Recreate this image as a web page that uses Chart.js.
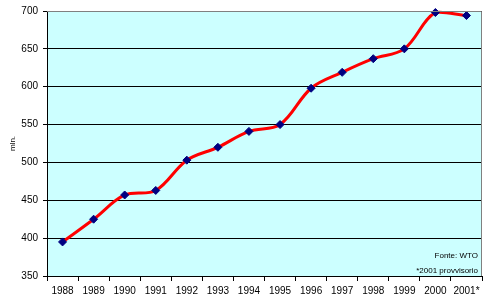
<!DOCTYPE html>
<html>
<head>
<meta charset="utf-8">
<script src="https://cdn.jsdelivr.net/npm/chart.js@4"></script>
<style>
  html, body { margin: 0; padding: 0; background: #fff; }
  #wrap { width: 499px; height: 307px; }
</style>
</head>
<body>
<div id="wrap"><canvas id="myChart" width="499" height="307"></canvas></div>
<script>
// Data
const years = ['1988', '1989', '1990', '1991', '1992', '1993', '1994', '1995', '1996', '1997', '1998', '1999', '2000', '2001*'];
const arrivals = [395, 425, 457, 463, 503, 520, 541, 550, 598, 619, 637, 650, 698, 694];
const yTicks = [350, 400, 450, 500, 550, 600, 650, 700];
const notes = ['Fonte: WTO', '*2001 provvisorio'];

// Plot area background, grey frame and the source notes
const decorations = {
    id: 'decorations',
    beforeDraw(chart) {
        const a = chart.chartArea;
        const ctx = chart.ctx;
        ctx.save();
        ctx.fillStyle = '#CCFFFF';
        ctx.fillRect(a.left, a.top, a.right - a.left, a.bottom - a.top);
        ctx.restore();
    },
    afterDatasetsDraw(chart) {
        const a = chart.chartArea;
        const ctx = chart.ctx;
        ctx.save();
        ctx.strokeStyle = '#808080';
        ctx.lineWidth = 1;
        ctx.beginPath();
        ctx.moveTo(a.left, a.top + 0.5);
        ctx.lineTo(a.right - 0.5, a.top + 0.5);
        ctx.lineTo(a.right - 0.5, a.bottom);
        ctx.stroke();
        ctx.fillStyle = '#000';
        ctx.font = '8px "Liberation Sans", Arial, sans-serif';
        ctx.textAlign = 'right';
        ctx.textBaseline = 'middle';
        ctx.fillText(notes[0], a.right - 4, a.bottom - 20);
        ctx.fillText(notes[1], a.right - 4, a.bottom - 5);
        ctx.restore();
    }
};

const ctx = document.getElementById('myChart').getContext('2d');
const myChart = new Chart(ctx, {
    type: 'line',
    data: {
        labels: years,
        datasets: [{
            data: arrivals,
            borderColor: '#FF0000',
            borderWidth: 3,
            tension: 0.35,
            clip: 6,
            pointStyle: 'rectRot',
            pointRadius: 4,
            pointBackgroundColor: '#000080',
            pointBorderColor: '#000080',
            pointBorderWidth: 1
        }]
    },
    options: {
        responsive: false,
        animation: false,
        layout: { padding: { left: 0, top: 11, right: 17, bottom: 0 } },
        plugins: {
            legend: { display: false },
            tooltip: { enabled: false }
        },
        scales: {
            x: {
                offset: true,
                grid: {
                    offset: true,
                    drawOnChartArea: false,
                    color: '#000',
                    tickLength: 5
                },
                border: { color: '#000', width: 1 },
                ticks: {
                    color: '#000',
                    padding: 4,
                    maxRotation: 0,
                    autoSkip: false,
                    font: { family: '"Liberation Sans", Arial, sans-serif', size: 10 }
                },
                afterFit(scale) { scale.height = 31; }
            },
            y: {
                min: 350,
                max: 700,
                afterBuildTicks(scale) {
                    scale.ticks = yTicks.map(v => ({ value: v }));
                },
                grid: {
                    color: '#000',
                    lineWidth: 1,
                    tickLength: 4
                },
                border: { color: '#000', width: 1 },
                ticks: {
                    color: '#000',
                    padding: 5,
                    font: { family: '"Liberation Sans", Arial, sans-serif', size: 10 }
                },
                title: {
                    display: true,
                    text: 'mln.',
                    color: '#000',
                    padding: { top: 8, bottom: 0 },
                    font: { family: '"Liberation Sans", Arial, sans-serif', size: 8 }
                },
                afterFit(scale) { scale.width = 47; }
            }
        }
    },
    plugins: [decorations]
});
</script>
</body>
</html>
